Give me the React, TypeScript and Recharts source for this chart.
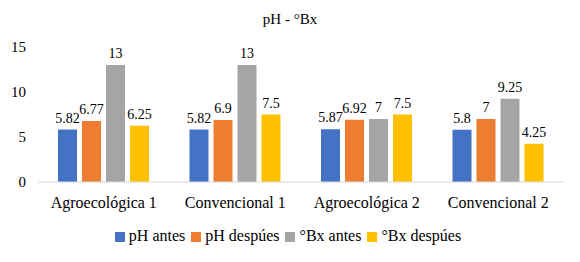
import { BarChart, Bar, XAxis, YAxis, Legend, LabelList } from 'recharts';

const categories = ['Agroecológica 1', 'Convencional 1', 'Agroecológica 2', 'Convencional 2'];
const phAntes = [5.82, 5.82, 5.87, 5.8];
const phDespues = [6.77, 6.9, 6.92, 7];
const bxAntes = [13, 13, 7, 9.25];
const bxDespues = [6.25, 7.5, 7.5, 4.25];
const yTicks = [0, 5, 10, 15];

const series = [
  { key: 'phAntes', name: 'pH antes', color: '#4472C4' },
  { key: 'phDespues', name: 'pH despúes', color: '#ED7D31' },
  { key: 'bxAntes', name: '°Bx antes', color: '#A5A5A5' },
  { key: 'bxDespues', name: '°Bx despúes', color: '#FFC000' },
];

const data = categories.map((c, i) => ({
  name: c,
  phAntes: phAntes[i],
  phDespues: phDespues[i],
  bxAntes: bxAntes[i],
  bxDespues: bxDespues[i],
}));

const font = 'Liberation Serif';

export default function App() {
  return (
    <div style={{ position: 'absolute', left: 0, top: 0, width: 580, height: 262, background: '#fff', fontFamily: font }}>
      <style>{`
        svg text, svg tspan { font-family: 'Liberation Serif', serif !important; }
        .recharts-legend-item { margin-right: 6px !important; }
        .recharts-legend-item:last-child { margin-right: 0 !important; }
      `}</style>
      <div style={{ position: 'absolute', top: 11, width: 580, textAlign: 'center', fontSize: 15, color: '#000' }}>
        pH - °Bx
      </div>
      <BarChart
        width={580}
        height={262}
        data={data}
        margin={{ top: 47, right: 16, left: 0, bottom: 15 }}
        barSize={19}
        barGap={5}
      >
        <XAxis
          dataKey="name"
          tickLine={false}
          axisLine={{ stroke: '#D9D9D9' }}
          tick={{ fill: '#000', fontSize: 16, fontFamily: font }}
          tickMargin={9}
          height={47}
        />
        <YAxis
          domain={[0, 15]}
          ticks={yTicks}
          tickLine={false}
          axisLine={false}
          tick={{ fill: '#000', fontSize: 15, fontFamily: font }}
          width={38}
          tickMargin={6}
        />
        <Legend
          verticalAlign="bottom"
          iconType="square"
          iconSize={10}
          wrapperStyle={{ fontSize: 16, fontFamily: font, left: 6, bottom: 17 }}
          formatter={(v) => <span style={{ color: '#000' }}>{v}</span>}
        />
        {series.map((s) => (
          <Bar key={s.key} dataKey={s.key} name={s.name} fill={s.color} isAnimationActive={false}>
            <LabelList dataKey={s.key} position="top" offset={7} fill="#000" fontSize={14} fontFamily={font} />
          </Bar>
        ))}
      </BarChart>
    </div>
  );
}
